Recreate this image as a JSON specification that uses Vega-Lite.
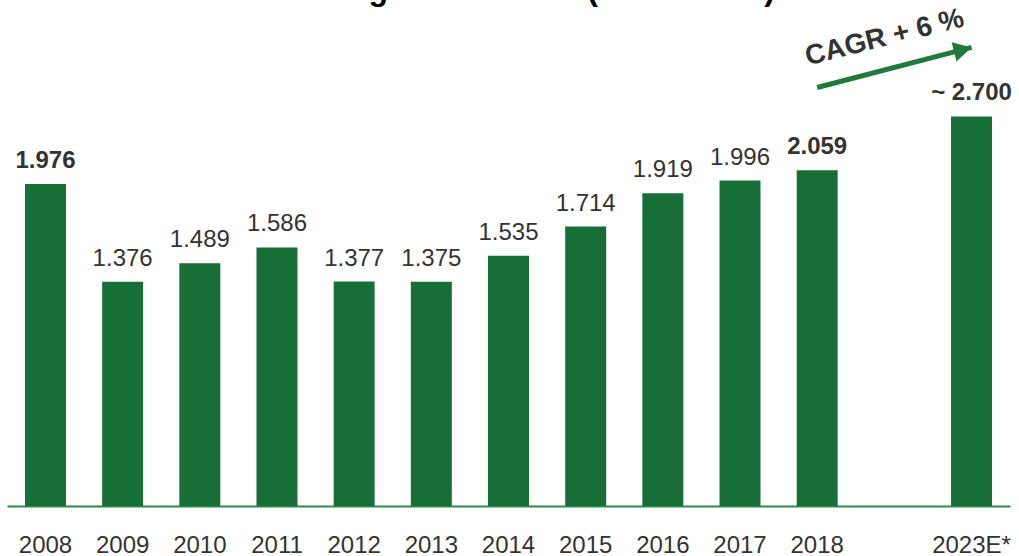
{
  "$schema": "https://vega.github.io/schema/vega-lite/v6.json",
  "autosize": "none",
  "width": 1003,
  "height": 476,
  "padding": {"left": 7, "top": 30, "right": 9, "bottom": 50},
  "background": "#ffffff",
  "title": {
    "text": "Zulassungszahlen LCV (in Tausend)",
    "font": "Liberation Sans",
    "fontSize": 32,
    "fontWeight": "bold",
    "color": "#000000",
    "anchor": "middle",
    "baseline": "alphabetic",
    "offset": 0,
    "dy": 27,
    "dx": -7
  },
  "config": {
    "view": {"stroke": null},
    "font": "Liberation Sans"
  },
  "datasets": {
    "bars": [
      {"year": "2008", "value": 1976, "label": "1.976", "bold": true},
      {"year": "2009", "value": 1376, "label": "1.376", "bold": false},
      {"year": "2010", "value": 1489, "label": "1.489", "bold": false},
      {"year": "2011", "value": 1586, "label": "1.586", "bold": false},
      {"year": "2012", "value": 1377, "label": "1.377", "bold": false},
      {"year": "2013", "value": 1375, "label": "1.375", "bold": false},
      {"year": "2014", "value": 1535, "label": "1.535", "bold": false},
      {"year": "2015", "value": 1714, "label": "1.714", "bold": false},
      {"year": "2016", "value": 1919, "label": "1.919", "bold": false},
      {"year": "2017", "value": 1996, "label": "1.996", "bold": false},
      {"year": "2018", "value": 2059, "label": "2.059", "bold": true},
      {"year": "2023E*", "value": 2390, "label": "~ 2.700", "bold": true}
    ],
    "arrow": [
      {"year": "2018", "yStart": 2567, "year2": "2023E*", "yEnd": 2813}
    ],
    "cagr": [
      {"year": "gap", "y": 2886, "text": "CAGR + 6 %"}
    ]
  },
  "layer": [
    {
      "data": {"name": "bars"},
      "mark": {"type": "bar", "color": "#176e37"},
      "encoding": {
        "x": {
          "field": "year",
          "type": "ordinal",
          "sort": null,
          "scale": {
            "domain": ["2008", "2009", "2010", "2011", "2012", "2013", "2014", "2015", "2016", "2017", "2018", "gap", "2023E*"],
            "paddingInner": 0.469,
            "paddingOuter": 0.233
          },
          "axis": {
            "title": null,
            "labelExpr": "datum.value == 'gap' ? '' : datum.value",
            "labelAngle": 0,
            "labelFont": "Liberation Sans",
            "labelFontSize": 24,
            "labelColor": "#333333",
            "labelPadding": 46,
            "labelBaseline": "alphabetic",
            "ticks": false,
            "domainColor": "#2e8a48",
            "domainWidth": 2,
            "grid": false
          }
        },
        "y": {
          "field": "value",
          "type": "quantitative",
          "scale": {"domain": [0, 2920], "nice": false},
          "axis": null
        }
      }
    },
    {
      "data": {"name": "bars"},
      "transform": [{"filter": "!datum.bold"}],
      "mark": {"type": "text", "baseline": "alphabetic", "align": "center", "dy": -16, "fontSize": 24, "fontWeight": "normal", "font": "Liberation Sans", "color": "#333333"},
      "encoding": {
        "x": {"field": "year", "type": "ordinal", "sort": null},
        "y": {"field": "value", "type": "quantitative"},
        "text": {"field": "label"}
      }
    },
    {
      "data": {"name": "bars"},
      "transform": [{"filter": "datum.bold"}],
      "mark": {"type": "text", "baseline": "alphabetic", "align": "center", "dy": -16, "fontSize": 24, "fontWeight": "bold", "font": "Liberation Sans", "color": "#333333"},
      "encoding": {
        "x": {"field": "year", "type": "ordinal", "sort": null},
        "y": {"field": "value", "type": "quantitative"},
        "text": {"field": "label"}
      }
    },
    {
      "data": {"name": "arrow"},
      "mark": {"type": "rule", "color": "#1f7a3c", "strokeWidth": 5, "strokeCap": "butt"},
      "encoding": {
        "x": {"field": "year", "type": "ordinal"},
        "x2": {"field": "year2"},
        "y": {"field": "yStart", "type": "quantitative"},
        "y2": {"field": "yEnd"}
      }
    },
    {
      "data": {"name": "arrow"},
      "mark": {"type": "point", "shape": "M0,0 L-1,-0.55 L-1,0.55 Z", "filled": true, "color": "#1f7a3c", "opacity": 1, "size": 1300, "angle": -14},
      "encoding": {
        "x": {"field": "year2", "type": "ordinal"},
        "y": {"field": "yEnd", "type": "quantitative"}
      }
    },
    {
      "data": {"name": "cagr"},
      "mark": {"type": "text", "align": "center", "baseline": "middle", "angle": -14, "dx": -10, "fontSize": 28, "fontWeight": "bold", "font": "Liberation Sans", "color": "#333333"},
      "encoding": {
        "x": {"field": "year", "type": "ordinal"},
        "y": {"field": "y", "type": "quantitative"},
        "text": {"field": "text"}
      }
    }
  ]
}
